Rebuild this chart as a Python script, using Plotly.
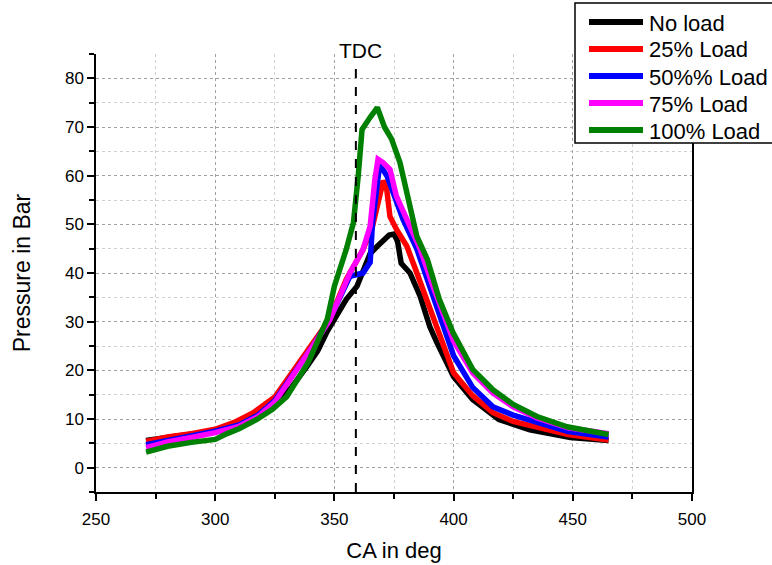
import plotly.graph_objects as go

# ---- data ----
ca_noload = [271, 280, 290, 300, 310, 318, 325, 332, 338.5, 343, 347, 351, 355, 359.5, 362, 365, 368, 370.5, 373, 375, 376.5, 378, 381.7, 386, 390, 393, 400, 408, 419, 432, 449, 465]
p_noload = [5.6, 6.2, 6.8, 7.6, 9.0, 10.8, 13.0, 16.5, 20.8, 24.0, 28.0, 31.3, 34.6, 37.3, 40.5, 44.0, 45.5, 46.5, 47.8, 48.0, 46.5, 42.0, 40.0, 35.2, 29.0, 25.7, 18.7, 14.0, 9.9, 7.8, 6.2, 5.6]

ca_25 = [271, 280, 290, 300, 308, 316, 325, 334, 341, 348, 355, 360, 362, 366, 369, 370.5, 372, 373.3, 376, 380.4, 384.6, 390, 394, 400, 408, 416.5, 425, 435, 448, 465]
p_25 = [5.4, 6.3, 7.0, 7.9, 9.3, 11.3, 14.5, 20.8, 25.5, 30.5, 38.7, 42.8, 44.8, 49.6, 55.8, 59.0, 57.0, 51.6, 49.0, 45.5, 40.0, 33.0, 27.8, 19.5, 14.8, 11.3, 9.5, 8.2, 6.8, 5.7]

ca_50 = [271, 280, 290, 300, 310, 318, 325, 334, 341, 348, 353, 356.5, 362, 365, 366, 368, 369, 372, 374.6, 378.8, 384.6, 390, 395.6, 400, 408, 416.5, 425, 435, 448, 465]
p_50 = [4.7, 5.6, 6.5, 7.5, 8.8, 10.8, 13.8, 20.0, 25.0, 30.5, 36.0, 39.3, 40.0, 42.2, 50.4, 59.3, 62.3, 60.0, 56.6, 51.0, 44.9, 37.2, 29.0, 23.0, 16.5, 12.5, 10.8, 9.2, 7.4, 6.3]

ca_75 = [271, 280, 290, 300, 310, 318, 325, 334, 341, 348, 353, 356.5, 362, 365, 367, 368.3, 370.4, 373.3, 376, 380.4, 386, 391.4, 397, 400, 408, 416.5, 425, 435, 448, 465]
p_75 = [4.1, 5.3, 6.2, 7.2, 8.5, 10.5, 13.5, 19.8, 25.0, 30.3, 36.0, 40.0, 44.8, 49.6, 59.3, 63.4, 62.7, 61.3, 55.8, 51.0, 44.9, 37.2, 29.5, 26.0, 19.5, 15.3, 12.5, 10.2, 8.2, 7.0]

ca_100 = [271, 280, 290, 300, 305, 310, 317.5, 324, 330, 339, 347, 350, 355, 358, 360, 361.6, 365, 368, 371, 374, 377.5, 380.5, 384.6, 389, 394, 399.7, 408, 416.5, 425, 435, 447.6, 465]
p_100 = [3.2, 4.4, 5.2, 5.8, 7.0, 8.0, 9.9, 12.0, 14.6, 21.6, 30.5, 37.3, 44.9, 50.4, 60.0, 69.5, 72.0, 74.0, 70.0, 67.5, 62.7, 55.8, 47.5, 42.8, 34.6, 27.8, 20.2, 16.0, 13.0, 10.5, 8.4, 6.8]

series_names = ["No load", "25% Load", "50%% Load", "75% Load", "100% Load"]
series_colors = ["#000000", "#ff0000", "#0000ff", "#ff00ff", "#008000"]
series_x = [ca_noload, ca_25, ca_50, ca_75, ca_100]
series_y = [p_noload, p_25, p_50, p_75, p_100]

tdc_angle = 359
x_range = [250, 500]
y_range = [-5, 85]

FONT = "Liberation Sans, Arial, sans-serif"

W, H = 772, 565
ML, MR, MT, MB = 96, 80, 54, 73
PW, PH = W - ML - MR, H - MT - MB


def px_to_paper_x(px):
    return (px - ML) / PW


def py_to_paper_y(py):
    return (H - MB - py) / PH


fig = go.Figure()
for xs, ys, name, col in zip(series_x, series_y, series_names, series_colors):
    fig.add_trace(go.Scatter(x=xs, y=ys, mode="lines", name=name, showlegend=False,
                             line=dict(color=col, width=5.5)))

# TDC dashed line
fig.add_trace(go.Scatter(x=[tdc_angle, tdc_angle], y=[y_range[0], 83.5], mode="lines",
                         line=dict(color="black", width=2, dash="dash"),
                         showlegend=False, hoverinfo="skip"))
fig.add_annotation(x=tdc_angle + 2, y=83.0, text="TDC", showarrow=False,
                   yanchor="bottom", xanchor="center",
                   font=dict(family=FONT, size=21, color="black"))

axis_common = dict(
    showline=True, linecolor="black", linewidth=1.5,
    ticks="outside", ticklen=7, tickwidth=1.5, tickcolor="black",
    showgrid=True, gridcolor="#a0a0a0", griddash="dot", gridwidth=1,
    zeroline=False, automargin=False,
    tickfont=dict(family=FONT, size=17, color="black"),
)

fig.update_xaxes(range=x_range, dtick=50, tick0=250, ticklabelstandoff=4,
                 title=dict(text="CA in deg", font=dict(family=FONT, size=22, color="black"), standoff=14),
                 minor=dict(dtick=25, tick0=250, ticks="outside", ticklen=5, tickcolor="black",
                            showgrid=True, gridcolor="#d0d0d0", griddash="dot"),
                 **axis_common)
fig.update_yaxes(range=y_range, dtick=10, tick0=0, mirror=True,
                 title=dict(text="Pressure in Bar", font=dict(family=FONT, size=23, color="black"), standoff=28),
                 minor=dict(dtick=5, tick0=0, ticks="outside", ticklen=5, tickcolor="black",
                            showgrid=True, gridcolor="#d0d0d0", griddash="dot"),
                 **axis_common)

# ---- legend box drawn in paper coordinates ----
shapes = [dict(type="rect", xref="paper", yref="paper", layer="above",
               x0=px_to_paper_x(575), x1=px_to_paper_x(776),
               y0=py_to_paper_y(143), y1=py_to_paper_y(3),
               line=dict(color="black", width=1.5), fillcolor="white")]
row_y = [22, 49, 76, 103, 130]
for ry, name, col in zip(row_y, series_names, series_colors):
    shapes.append(dict(type="line", xref="paper", yref="paper", layer="above",
                       x0=px_to_paper_x(589), x1=px_to_paper_x(643),
                       y0=py_to_paper_y(ry), y1=py_to_paper_y(ry),
                       line=dict(color=col, width=6)))
    fig.add_annotation(xref="paper", yref="paper", x=px_to_paper_x(647), y=py_to_paper_y(ry + 1),
                       text=name, showarrow=False, xanchor="left", yanchor="middle",
                       font=dict(family=FONT, size=22, color="black"))

fig.update_layout(
    width=W, height=H,
    margin=dict(l=ML, r=MR, t=MT, b=MB, autoexpand=False),
    plot_bgcolor="white", paper_bgcolor="white",
    font=dict(family=FONT, color="black"),
    showlegend=False,
    shapes=shapes,
)

fig.write_html("out.html")
